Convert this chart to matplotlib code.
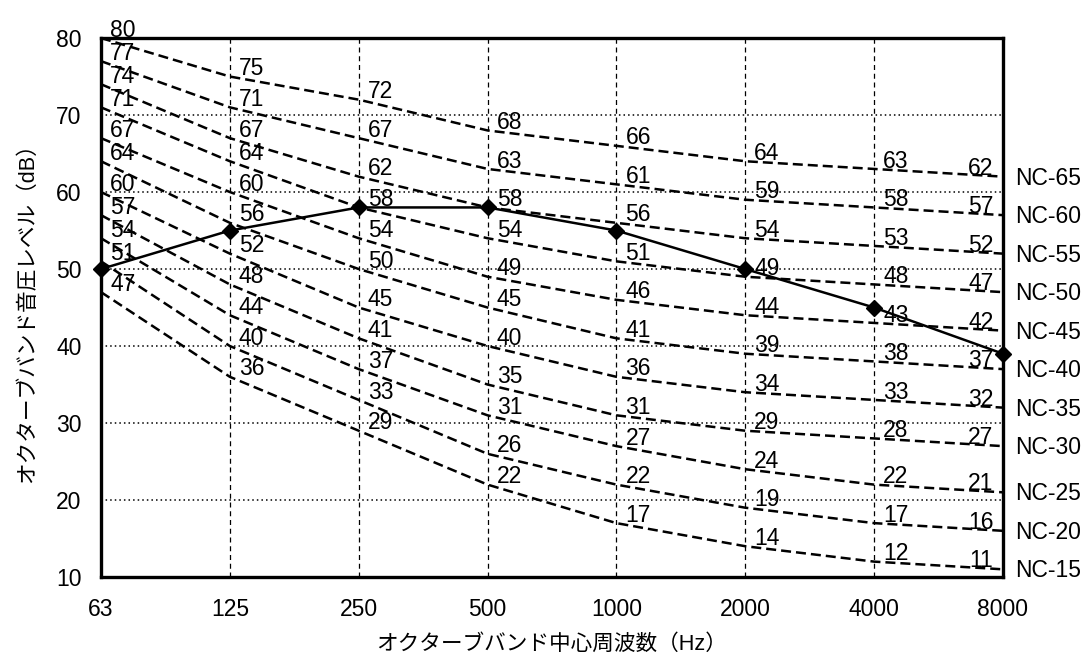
import numpy as np
import matplotlib.pyplot as plt

plt.rcParams['font.family'] = ['Liberation Sans', 'Noto Sans CJK JP', 'DejaVu Sans']

# オクターブバンド中心周波数
freqs = ['63', '125', '250', '500', '1000', '2000', '4000', '8000']

# NC曲線 (dB)
nc_names = ['NC-65', 'NC-60', 'NC-55', 'NC-50', 'NC-45', 'NC-40',
            'NC-35', 'NC-30', 'NC-25', 'NC-20', 'NC-15']
nc65 = [80, 75, 72, 68, 66, 64, 63, 62]
nc60 = [77, 71, 67, 63, 61, 59, 58, 57]
nc55 = [74, 67, 62, 58, 56, 54, 53, 52]
nc50 = [71, 64, 58, 54, 51, 49, 48, 47]
nc45 = [67, 60, 54, 49, 46, 44, 43, 42]
nc40 = [64, 56, 50, 45, 41, 39, 38, 37]
nc35 = [60, 52, 45, 40, 36, 34, 33, 32]
nc30 = [57, 48, 41, 35, 31, 29, 28, 27]
nc25 = [54, 44, 37, 31, 27, 24, 22, 21]
nc20 = [51, 40, 33, 26, 22, 19, 17, 16]
nc15 = [47, 36, 29, 22, 17, 14, 12, 11]
nc_curves = [nc65, nc60, nc55, nc50, nc45, nc40, nc35, nc30, nc25, nc20, nc15]

# 測定値
measured = [50, 55, 58, 58, 55, 50, 45, 39]

x = np.arange(len(freqs))
fs = 16.5

fig = plt.figure(figsize=(10.85, 6.56), dpi=100)
ax = fig.add_axes([0.0931, 0.1204, 0.8313, 0.8216])

# グリッド
for xi in x[1:-1]:
    ax.axvline(xi, color='black', lw=0.9, ls=(0, (4, 3)), zorder=1)
for yv in range(20, 80, 10):
    ax.axhline(yv, color='black', lw=1.1, ls=(0, (1, 2)), zorder=1)

# NC曲線
for name, vals in zip(nc_names, nc_curves):
    ax.plot(x, vals, color='black', lw=1.8, ls=(0, (4, 2)), zorder=2, clip_on=False)
    for i, v in enumerate(vals):
        if i == len(vals) - 1:
            ax.annotate(str(v), (x[i], v), xytext=(-7, 1.5), textcoords='offset points',
                        ha='right', va='baseline', fontsize=fs, zorder=4)
        else:
            ax.annotate(str(v), (x[i], v), xytext=(6.5, 1), textcoords='offset points',
                        ha='left', va='baseline', fontsize=fs, zorder=4)
    ax.annotate(name, (x[-1], vals[-1]), xytext=(9, -1), textcoords='offset points',
                ha='left', va='center', fontsize=fs, annotation_clip=False)

# 測定値
ax.plot(x, measured, color='black', lw=1.8, marker='D', markersize=8, zorder=3, clip_on=False)

ax.set_xlim(0, 7)
ax.set_ylim(10, 80)
ax.set_xticks(x)
ax.set_xticklabels(freqs)
ax.set_yticks(range(10, 90, 10))
ax.tick_params(length=0, labelsize=fs)
ax.tick_params(axis='y', pad=14)
ax.tick_params(axis='x', pad=15)
for s in ax.spines.values():
    s.set_linewidth(2.4)
    s.set_zorder(5)

ax.set_xlabel('オクターブバンド中心周波数（Hz）', fontsize=15.6, labelpad=9)
ax.set_ylabel('オクターブバンド音圧レベル（dB）', fontsize=15.6, labelpad=13)

fig.savefig('out.png', dpi=100)
